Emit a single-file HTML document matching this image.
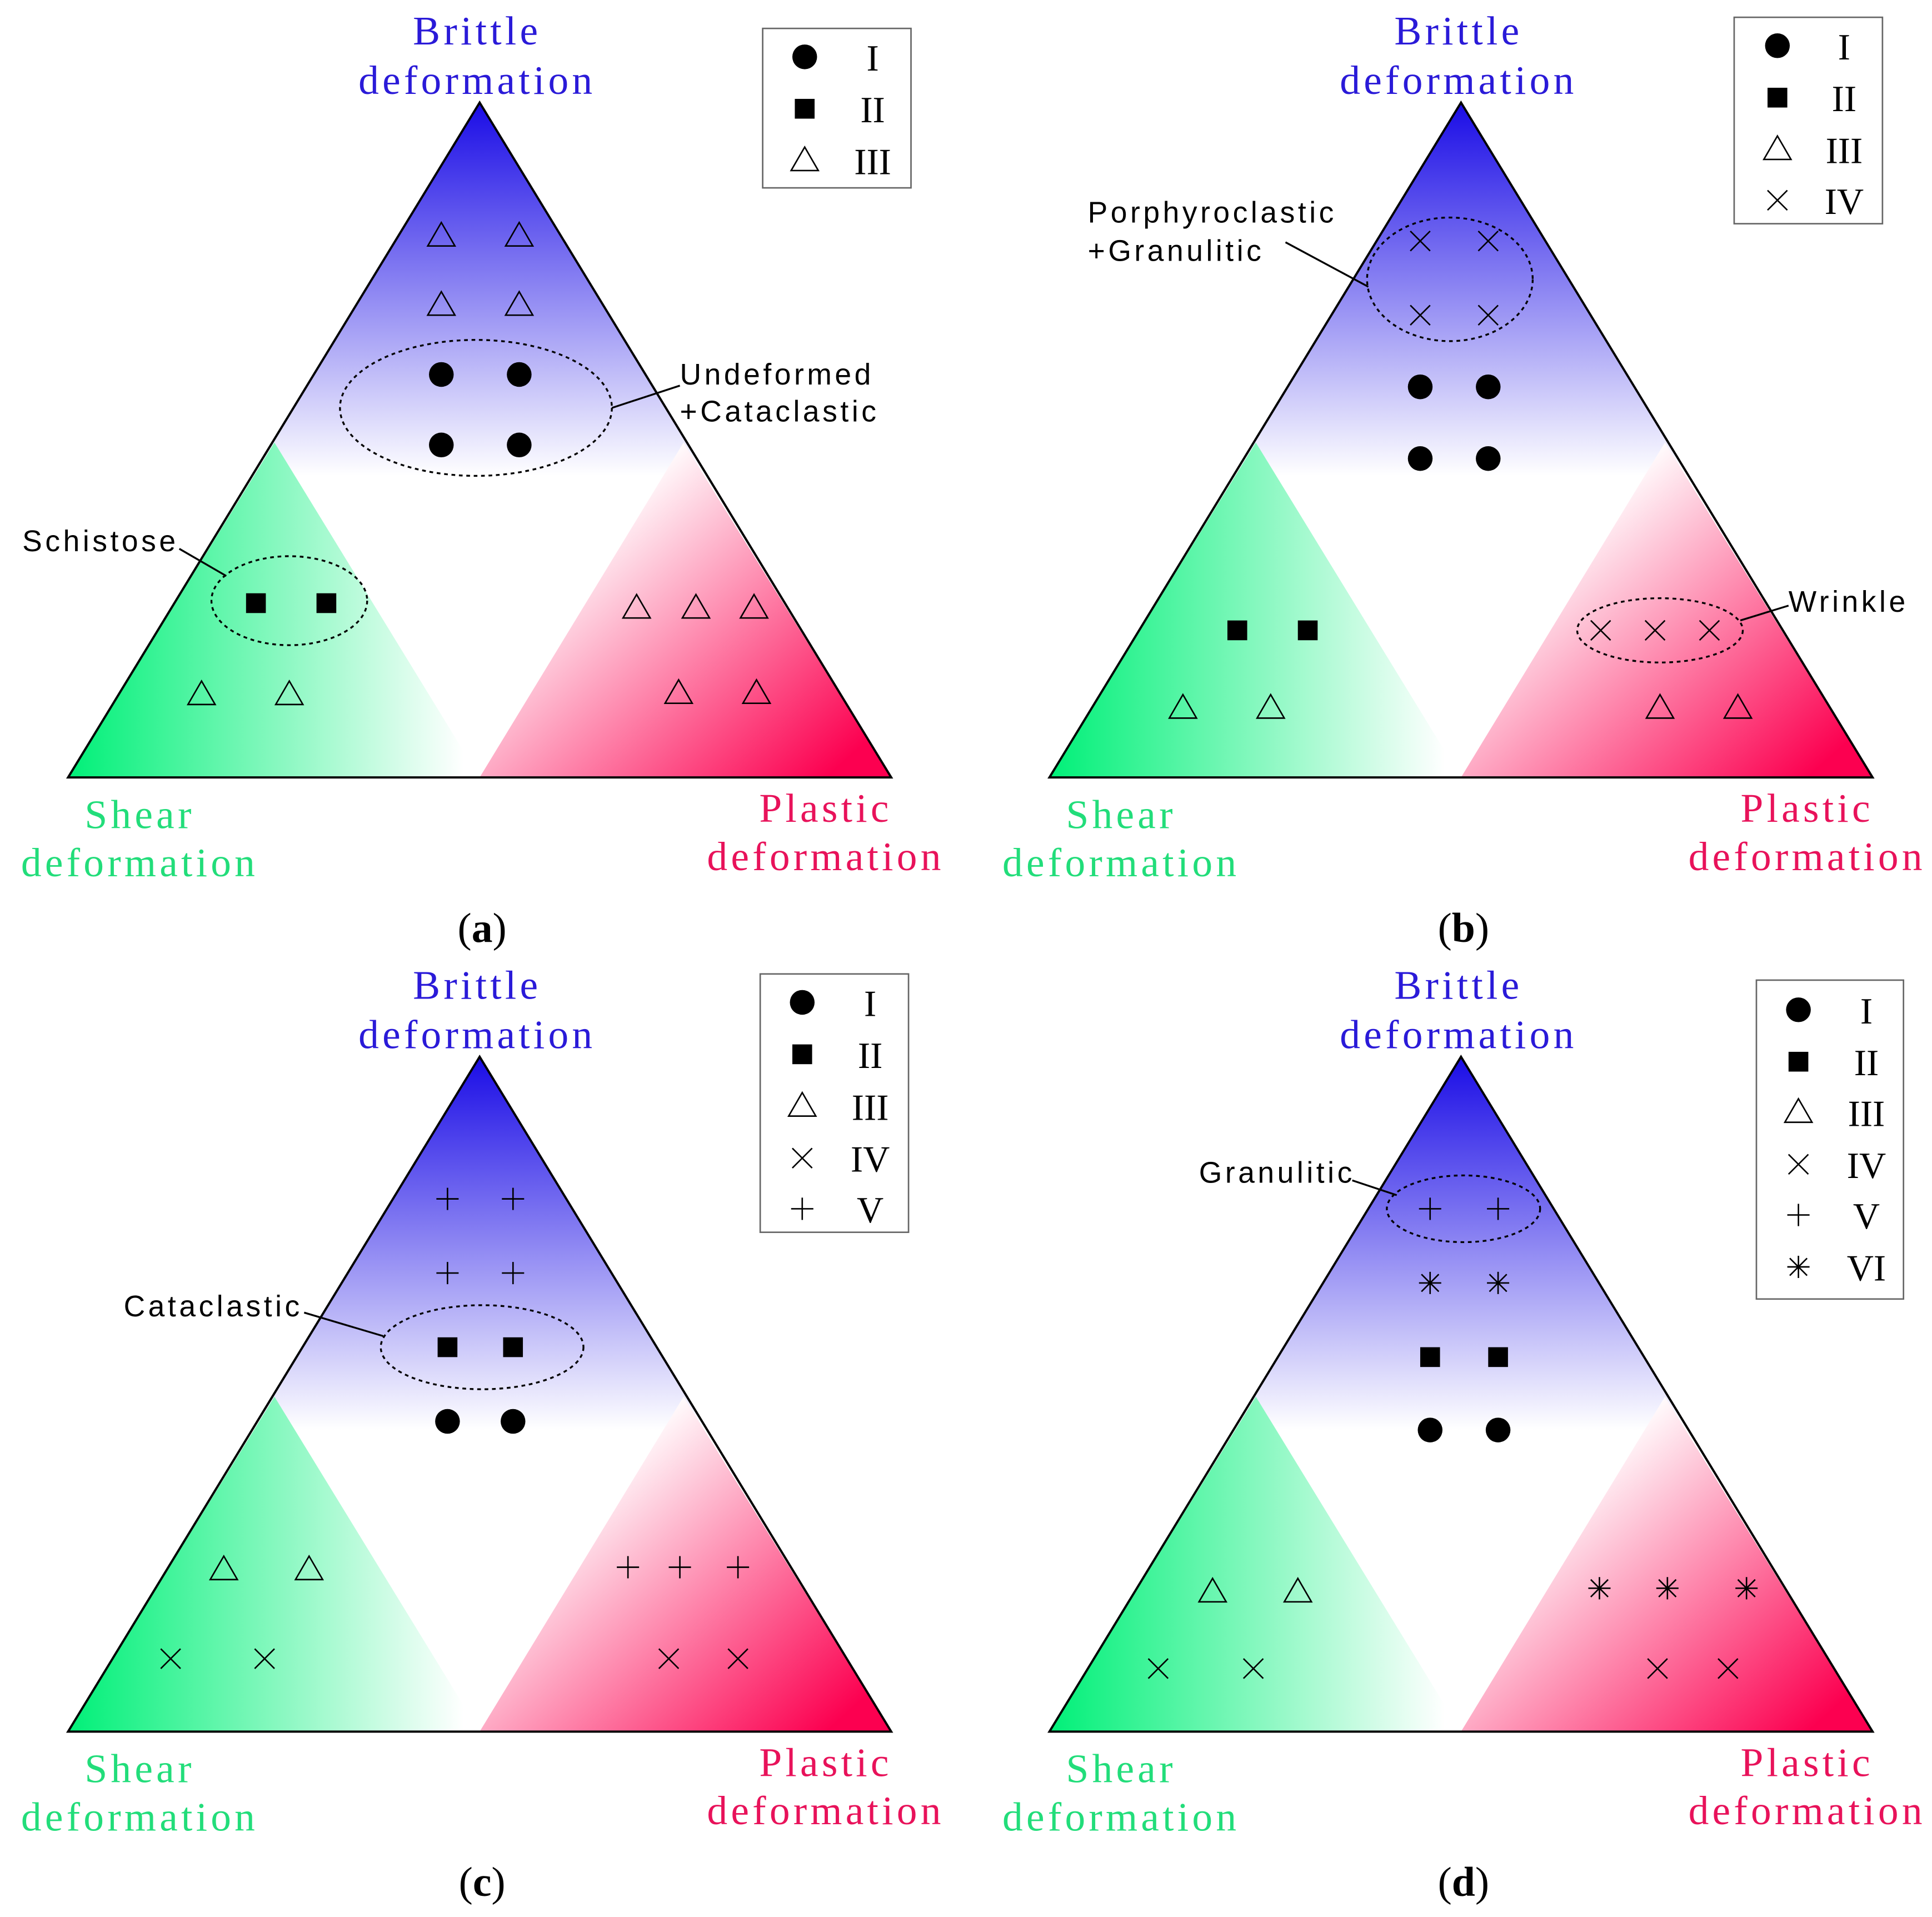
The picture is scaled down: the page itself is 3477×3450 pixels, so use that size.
<!DOCTYPE html>
<html><head><meta charset="utf-8"><style>html,body{margin:0;padding:0;background:#fff}svg{display:block}</style></head><body>
<svg xmlns="http://www.w3.org/2000/svg" xmlns:xlink="http://www.w3.org/1999/xlink" width="3477" height="3450" viewBox="0 0 1563 1551">
<defs>
<linearGradient id="gb" gradientUnits="userSpaceOnUse" x1="0" y1="83" x2="0" y2="385"><stop offset="0" stop-color="#1a0ce6"/><stop offset="1" stop-color="#fff"/></linearGradient>
<linearGradient id="gg" gradientUnits="userSpaceOnUse" x1="55" y1="0" x2="375" y2="0"><stop offset="0" stop-color="#00f078"/><stop offset="1" stop-color="#fff"/></linearGradient>
<linearGradient id="gp" gradientUnits="userSpaceOnUse" x1="500" y1="400" x2="690" y2="610"><stop offset="0" stop-color="#fff"/><stop offset="1" stop-color="#fc0050"/></linearGradient>
<circle id="c" r="10" fill="#000"/>
<rect id="s" x="-8" y="-8" width="16" height="16" fill="#000"/>
<polygon id="t" points="0,-11 11,8 -11,8" fill="none" stroke="#000" stroke-width="1.2"/>
<path id="x" d="M-8,-8L8,8M8,-8L-8,8" stroke="#000" stroke-width="1.2"/>
<path id="p" d="M-9,0H9M0,-9V9" stroke="#000" stroke-width="1.2"/>
<path id="a" d="M-9,0H9M0,-9V9M-7,-7L7,7M7,-7L-7,7" stroke="#000" stroke-width="1.2"/>
<g id="base">
<polygon points="388,83 55,629 721,629" fill="url(#gb)"/>
<polygon points="222,358 55,629 388,629" fill="url(#gg)"/>
<polygon points="553,358 388,629 721,629" fill="url(#gp)"/>
<polygon points="388,83 55,629 721,629" fill="none" stroke="#000" stroke-width="1.8"/>
<g font-family="Liberation Serif, serif" font-size="33" letter-spacing="2.8" text-anchor="middle">
<text x="386" y="36" fill="#2a1ad8">Brittle</text>
<text x="386" y="76" fill="#2a1ad8">deformation</text>
<text x="113" y="670" fill="#22dd7a">Shear</text>
<text x="113" y="709" fill="#22dd7a">deformation</text>
<text x="668" y="665" fill="#e8125a">Plastic</text>
<text x="668" y="704" fill="#e8125a">deformation</text>
</g>
</g>
</defs>
<g font-family="Liberation Sans, sans-serif" font-size="24" letter-spacing="2.5" fill="#000">
<!-- (a) -->
<use href="#base"/>
<text x="390" y="762" font-family="Liberation Serif, serif" font-size="34" letter-spacing="0" text-anchor="middle">(<tspan font-weight="bold">a</tspan>)</text>
<rect x="617" y="23" width="120" height="129" fill="#fff" stroke="#666" stroke-width="1.2"/>
<use href="#c" x="651" y="46"/><use href="#s" x="651" y="88"/><use href="#t" x="651" y="130"/>
<g font-family="Liberation Serif, serif" font-size="30" letter-spacing="0" text-anchor="middle"><text x="706" y="57">I</text><text x="706" y="99">II</text><text x="706" y="141">III</text></g>
<use href="#t" x="357" y="191"/><use href="#t" x="420" y="191"/><use href="#t" x="357" y="247"/><use href="#t" x="420" y="247"/>
<use href="#c" x="357" y="303"/><use href="#c" x="420" y="303"/><use href="#c" x="357" y="360"/><use href="#c" x="420" y="360"/>
<ellipse cx="385" cy="330" rx="110" ry="55" fill="none" stroke="#000" stroke-width="1.5" stroke-dasharray="3,3"/>
<path d="M495,330L550,312" stroke="#000" stroke-width="1.5"/>
<text x="550" y="311">Undeformed</text><text x="550" y="341">+Cataclastic</text>
<text x="18" y="446">Schistose</text>
<path d="M145,444L183,466" stroke="#000" stroke-width="1.5"/>
<ellipse cx="234" cy="486" rx="63" ry="36" fill="none" stroke="#000" stroke-width="1.5" stroke-dasharray="3,3"/>
<use href="#s" x="207" y="488"/><use href="#s" x="264" y="488"/>
<use href="#t" x="163" y="562"/><use href="#t" x="234" y="562"/>
<use href="#t" x="515" y="492"/><use href="#t" x="563" y="492"/><use href="#t" x="610" y="492"/><use href="#t" x="549" y="561"/><use href="#t" x="612" y="561"/>

<!-- (b) -->
<g transform="translate(794,0)"><use href="#base"/>
<text x="390" y="762" font-family="Liberation Serif, serif" font-size="34" letter-spacing="0" text-anchor="middle">(<tspan font-weight="bold">b</tspan>)</text></g>
<rect x="1403" y="14" width="120" height="167" fill="#fff" stroke="#666" stroke-width="1.2"/>
<use href="#c" x="1438" y="37"/><use href="#s" x="1438" y="79"/><use href="#t" x="1438" y="121"/><use href="#x" x="1438" y="162"/>
<g font-family="Liberation Serif, serif" font-size="30" letter-spacing="0" text-anchor="middle"><text x="1492" y="48">I</text><text x="1492" y="90">II</text><text x="1492" y="132">III</text><text x="1492" y="173">IV</text></g>
<use href="#x" x="1149" y="195"/><use href="#x" x="1204" y="195"/><use href="#x" x="1149" y="255"/><use href="#x" x="1204" y="255"/>
<ellipse cx="1173" cy="226" rx="67" ry="50" fill="none" stroke="#000" stroke-width="1.5" stroke-dasharray="3,3"/>
<text x="880" y="180">Porphyroclastic</text><text x="880" y="211">+Granulitic</text>
<path d="M1040,196L1107,232" stroke="#000" stroke-width="1.5"/>
<use href="#c" x="1149" y="313"/><use href="#c" x="1204" y="313"/><use href="#c" x="1149" y="371"/><use href="#c" x="1204" y="371"/>
<use href="#s" x="1001" y="510"/><use href="#s" x="1058" y="510"/>
<use href="#t" x="957" y="573"/><use href="#t" x="1028" y="573"/>
<use href="#x" x="1295" y="510"/><use href="#x" x="1339" y="510"/><use href="#x" x="1383" y="510"/>
<ellipse cx="1343" cy="510" rx="67" ry="26" fill="none" stroke="#000" stroke-width="1.5" stroke-dasharray="3,3"/>
<path d="M1408,502L1447,490" stroke="#000" stroke-width="1.5"/>
<text x="1447" y="495">Wrinkle</text>
<use href="#t" x="1343" y="573"/><use href="#t" x="1406" y="573"/>

<!-- (c) -->
<g transform="translate(0,772)"><use href="#base"/>
<text x="390" y="762" font-family="Liberation Serif, serif" font-size="34" letter-spacing="0" text-anchor="middle">(<tspan font-weight="bold">c</tspan>)</text></g>
<rect x="615" y="788" width="120" height="209" fill="#fff" stroke="#666" stroke-width="1.2"/>
<use href="#c" x="649" y="811"/><use href="#s" x="649" y="853"/><use href="#t" x="649" y="895"/><use href="#x" x="649" y="937"/><use href="#p" x="649" y="978"/>
<g font-family="Liberation Serif, serif" font-size="30" letter-spacing="0" text-anchor="middle"><text x="704" y="822">I</text><text x="704" y="864">II</text><text x="704" y="906">III</text><text x="704" y="948">IV</text><text x="704" y="989">V</text></g>
<use href="#p" x="362" y="970"/><use href="#p" x="415" y="970"/><use href="#p" x="362" y="1030"/><use href="#p" x="415" y="1030"/>
<use href="#s" x="362" y="1090"/><use href="#s" x="415" y="1090"/>
<ellipse cx="390" cy="1090" rx="82" ry="34" fill="none" stroke="#000" stroke-width="1.5" stroke-dasharray="3,3"/>
<text x="100" y="1065">Cataclastic</text>
<path d="M246,1062L310,1081" stroke="#000" stroke-width="1.5"/>
<use href="#c" x="362" y="1150"/><use href="#c" x="415" y="1150"/>
<use href="#t" x="181" y="1270"/><use href="#t" x="250" y="1270"/>
<use href="#x" x="138" y="1342"/><use href="#x" x="214" y="1342"/>
<use href="#p" x="508" y="1268"/><use href="#p" x="550" y="1268"/><use href="#p" x="597" y="1268"/>
<use href="#x" x="541" y="1342"/><use href="#x" x="597" y="1342"/>

<!-- (d) -->
<g transform="translate(794,772)"><use href="#base"/>
<text x="390" y="762" font-family="Liberation Serif, serif" font-size="34" letter-spacing="0" text-anchor="middle">(<tspan font-weight="bold">d</tspan>)</text></g>
<rect x="1421" y="793" width="119" height="258" fill="#fff" stroke="#666" stroke-width="1.2"/>
<use href="#c" x="1455" y="817"/><use href="#s" x="1455" y="859"/><use href="#t" x="1455" y="900"/><use href="#x" x="1455" y="942"/><use href="#p" x="1455" y="983"/><use href="#a" x="1455" y="1025"/>
<g font-family="Liberation Serif, serif" font-size="30" letter-spacing="0" text-anchor="middle"><text x="1510" y="828">I</text><text x="1510" y="870">II</text><text x="1510" y="911">III</text><text x="1510" y="953">IV</text><text x="1510" y="994">V</text><text x="1510" y="1036">VI</text></g>
<use href="#p" x="1157" y="978"/><use href="#p" x="1212" y="978"/>
<ellipse cx="1184" cy="978" rx="62" ry="27" fill="none" stroke="#000" stroke-width="1.5" stroke-dasharray="3,3"/>
<text x="970" y="957">Granulitic</text>
<path d="M1094,955L1130,967" stroke="#000" stroke-width="1.5"/>
<use href="#a" x="1157" y="1038"/><use href="#a" x="1212" y="1038"/>
<use href="#s" x="1157" y="1098"/><use href="#s" x="1212" y="1098"/>
<use href="#c" x="1157" y="1157"/><use href="#c" x="1212" y="1157"/>
<use href="#t" x="981" y="1288"/><use href="#t" x="1050" y="1288"/>
<use href="#x" x="937" y="1350"/><use href="#x" x="1014" y="1350"/>
<use href="#a" x="1294" y="1285"/><use href="#a" x="1349" y="1285"/><use href="#a" x="1413" y="1285"/>
<use href="#x" x="1341" y="1350"/><use href="#x" x="1398" y="1350"/>
</g>
</svg>
</body></html>
